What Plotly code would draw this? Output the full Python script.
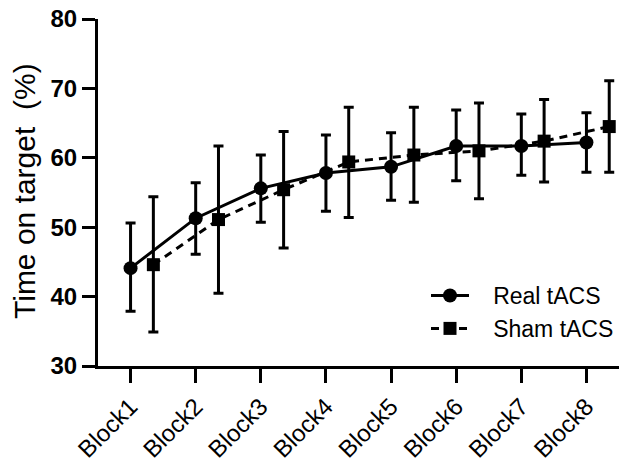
import plotly.graph_objects as go

categories = ["Block1", "Block2", "Block3", "Block4", "Block5", "Block6", "Block7", "Block8"]
real_mean = [44.1, 51.3, 55.6, 57.8, 58.7, 61.7, 61.7, 62.2]
real_upper = [50.6, 56.4, 60.4, 63.3, 63.6, 66.9, 66.3, 66.5]
real_lower = [37.9, 46.1, 50.7, 52.3, 53.9, 56.7, 57.5, 57.9]
sham_mean = [44.6, 51.1, 55.4, 59.4, 60.4, 61.0, 62.4, 64.5]
sham_upper = [54.4, 61.7, 63.8, 67.3, 67.3, 67.9, 68.4, 71.1]
sham_lower = [34.9, 40.5, 47.0, 51.4, 53.6, 54.1, 56.5, 57.9]
y_ticks = [30, 40, 50, 60, 70, 80]

offset = 0.35
xr = list(range(len(categories)))
xs = [i + offset for i in xr]

FONT = "Arial, Liberation Sans, sans-serif"
PAD = "\u00a0\u00a0\u00a0"

fig = go.Figure()
fig.add_trace(go.Scatter(
    x=xr, y=real_mean, name=PAD + "Real tACS", mode="lines+markers",
    line=dict(color="black", width=3),
    marker=dict(symbol="circle", size=14, color="black"),
    error_y=dict(type="data", symmetric=False,
                 array=[u - m for u, m in zip(real_upper, real_mean)],
                 arrayminus=[m - l for l, m in zip(real_lower, real_mean)],
                 color="black", thickness=3, width=5),
    cliponaxis=False,
))
fig.add_trace(go.Scatter(
    x=xs, y=sham_mean, name=PAD + "Sham tACS", mode="lines+markers",
    line=dict(color="black", width=3, dash="8px,6px"),
    marker=dict(symbol="square", size=13, color="black"),
    error_y=dict(type="data", symmetric=False,
                 array=[u - m for u, m in zip(sham_upper, sham_mean)],
                 arrayminus=[m - l for l, m in zip(sham_lower, sham_mean)],
                 color="black", thickness=3, width=5),
    cliponaxis=False,
))

fig.update_layout(
    width=619, height=464,
    margin=dict(l=98, r=0, t=19, b=98),
    paper_bgcolor="white", plot_bgcolor="white",
    font=dict(family=FONT, color="black"),
    showlegend=True,
    legend=dict(x=0.63, y=0.265, xanchor="left", yanchor="top",
                font=dict(size=23, family=FONT), bgcolor="rgba(0,0,0,0)",
                itemwidth=38, tracegroupgap=0),
    xaxis=dict(
        range=[-0.5, 7.5], tickmode="array", tickvals=xr, ticktext=categories,
        tickangle=-45, tickfont=dict(size=24, family=FONT), automargin=False,
        showline=True, linecolor="black", linewidth=3,
        ticks="outside", ticklen=14, tickwidth=3, tickcolor="black",
        showgrid=False, zeroline=False,
    ),
    yaxis=dict(
        range=[30, 80], tickmode="array", tickvals=y_ticks,
        ticktext=["<b>%d</b>" % v for v in y_ticks], automargin=False,
        tickfont=dict(size=24, family=FONT),
        showline=True, linecolor="black", linewidth=3,
        ticks="outside", ticklen=13, tickwidth=3, tickcolor="black",
        showgrid=False, zeroline=False,
    ),
    annotations=[dict(
        text="Time on target  (%)", xref="paper", yref="paper",
        x=-0.141, y=0.503, xanchor="center", yanchor="middle",
        textangle=-90, showarrow=False, font=dict(size=30, family=FONT),
    )],
)

fig.write_html("out.html")
